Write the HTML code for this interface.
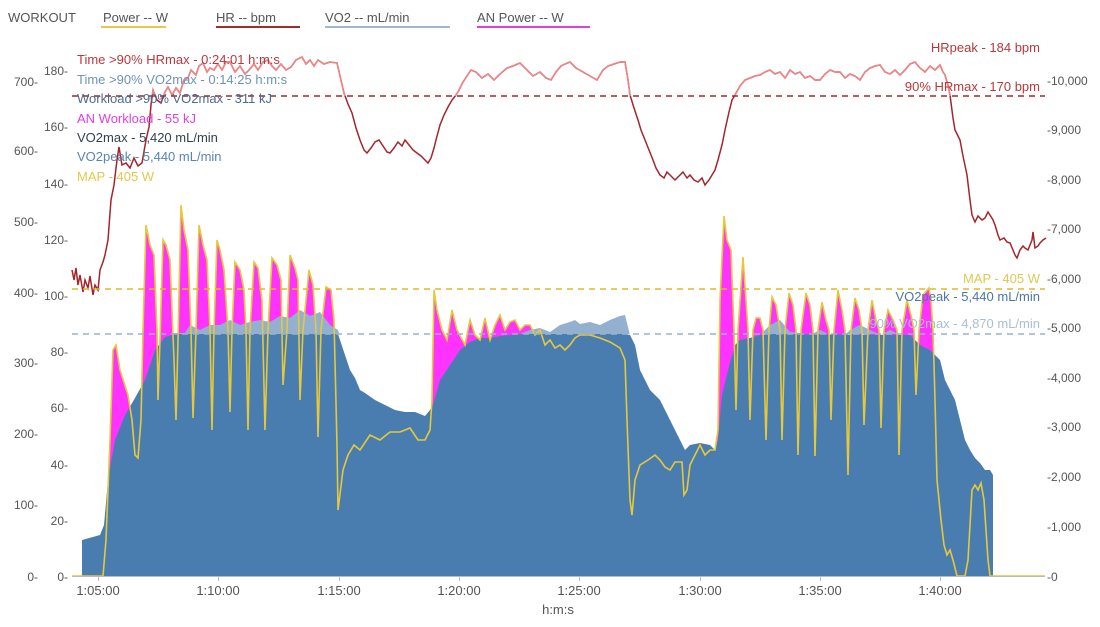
<!DOCTYPE html><html><head><meta charset="utf-8"><style>
html,body{margin:0;padding:0;background:#fff;}
svg{display:block;font-family:"Liberation Sans",sans-serif;}
</style></head><body>
<svg width="1100" height="627" viewBox="0 0 1100 627" xmlns="http://www.w3.org/2000/svg">
<defs>
<clipPath id="above96"><rect x="0" y="0" width="1100" height="96"/></clipPath>
<clipPath id="above334"><rect x="0" y="0" width="1100" height="334"/></clipPath>
</defs>
<g font-size="13" fill="#555">
<text x="8" y="22">WORKOUT</text>
<text x="103" y="22">Power  -- W</text>
<text x="216" y="22">HR  -- bpm</text>
<text x="325" y="22">VO2  -- mL/min</text>
<text x="477" y="22">AN Power  -- W</text>
</g>
<rect x="101" y="26" width="65" height="2" fill="#e3c84a"/>
<rect x="216" y="26" width="84" height="2" fill="#a52a2a"/>
<rect x="325" y="26" width="125" height="2" fill="#9fb8cc"/>
<rect x="477" y="26" width="113" height="2" fill="#e040e0"/>

<polygon fill="#ff33ff" points="72,576 103,576 106,540 110,440 113,350 116,345 120,370 128,395 132,420 135,455 138,458 141,420 143,330 146,225 150,245 154,255 157,330 158,400 160,340 163,240 166,245 170,260 174,360 176,420 178,340 181,205 184,230 188,250 191,330 193,418 196,330 199,225 203,245 207,260 210,330 212,430 214,330 217,240 220,250 224,270 228,330 230,412 232,330 235,262 240,270 244,290 246,330 248,430 250,330 254,262 258,268 262,300 265,430 268,330 272,258 277,265 281,280 283,385 287,330 290,255 295,268 298,280 300,400 303,330 309,270 313,285 316,330 318,437 321,330 326,287 331,290 334,320 337,445 338,510 343,470 348,455 354,445 360,450 370,435 380,440 390,432 400,432 410,428 418,440 425,440 430,430 432,400 434,290 437,310 442,330 447,340 452,310 457,330 465,345 470,320 475,335 480,340 485,318 490,340 495,325 500,315 505,330 510,322 515,320 520,330 525,325 530,325 535,335 540,330 545,345 550,340 555,348 560,345 565,350 570,345 575,338 580,335 590,335 600,338 610,342 620,348 625,360 627,420 630,500 632,515 635,480 640,465 648,460 655,455 660,460 665,467 670,470 675,462 682,462 684,495 687,490 690,465 700,445 705,455 710,450 715,450 718,430 720,300 724,216 727,240 731,250 734,330 736,410 738,330 743,257 746,300 748,330 750,420 753,330 756,318 760,318 763,330 766,440 769,330 772,297 776,305 780,330 782,440 785,330 789,293 793,305 796,330 798,455 801,330 806,293 810,305 813,330 815,456 818,330 822,302 826,320 829,330 831,420 834,330 838,290 842,310 845,330 848,475 851,330 855,298 859,310 862,330 864,425 868,330 872,300 876,320 879,330 881,428 884,330 888,310 893,320 897,330 899,455 902,330 907,300 911,315 914,330 916,395 919,330 923,295 929,288 931,300 933,330 935,400 937,480 941,520 944,545 947,555 950,550 953,560 957,576 960,576 965,576 968,560 972,490 975,485 978,490 981,483 984,500 988,560 990,576 1045,576"/>

<polygon fill="#93b1cf" clip-path="url(#above334)" points="82,540 100,535 104,525 108,480 115,440 125,415 135,398 145,380 155,350 165,337 175,333 185,333 190,325 200,330 210,325 220,325 230,320 240,325 250,322 260,320 270,322 280,316 290,318 300,310 310,316 320,312 330,325 338,330 345,355 350,370 355,378 360,390 365,393 375,400 385,405 395,410 405,412 415,412 425,416 430,410 433,405 440,380 450,365 460,350 470,342 480,338 490,338 500,336 510,335 520,334 530,330 540,328 550,332 560,325 570,322 575,320 580,324 590,322 600,325 610,320 620,316 625,315 630,335 635,345 640,370 645,380 650,390 655,395 660,400 670,420 680,440 685,450 690,445 700,443 710,445 715,450 718,440 722,395 728,370 735,345 740,340 750,338 760,335 770,325 780,320 790,332 800,333 810,335 820,330 830,335 840,340 850,330 860,325 870,330 880,335 890,330 900,335 910,335 920,345 930,350 935,355 940,360 945,380 950,390 955,400 960,420 965,440 970,450 975,458 980,463 985,470 990,470 993,475 993,576 82,576"/>

<polygon fill="#4a7daf" points="82,540 100,535 104,525 108,480 115,440 125,415 135,398 145,380 155,350 165,337 175,334 338,334 345,355 350,370 355,378 360,390 365,393 375,400 385,405 395,410 405,412 415,412 425,416 430,410 433,405 440,380 450,365 460,350 470,342 480,338 490,338 500,336 510,335 520,334 625,334 630,335 635,345 640,370 645,380 650,390 655,395 660,400 670,420 680,440 685,450 690,445 700,443 710,445 715,450 718,440 722,395 728,370 735,345 740,340 750,338 760,335 770,334 910,335 920,345 930,350 935,355 940,360 945,380 950,390 955,400 960,420 965,440 970,450 975,458 980,463 985,470 990,470 993,475 993,576 82,576"/>

<polyline fill="none" stroke="#e6c83a" stroke-width="1.6" points="72,576 103,576 106,540 110,440 113,350 116,345 120,370 128,395 132,420 135,455 138,458 141,420 143,330 146,225 150,245 154,255 157,330 158,400 160,340 163,240 166,245 170,260 174,360 176,420 178,340 181,205 184,230 188,250 191,330 193,418 196,330 199,225 203,245 207,260 210,330 212,430 214,330 217,240 220,250 224,270 228,330 230,412 232,330 235,262 240,270 244,290 246,330 248,430 250,330 254,262 258,268 262,300 265,430 268,330 272,258 277,265 281,280 283,385 287,330 290,255 295,268 298,280 300,400 303,330 309,270 313,285 316,330 318,437 321,330 326,287 331,290 334,320 337,445 338,510 343,470 348,455 354,445 360,450 370,435 380,440 390,432 400,432 410,428 418,440 425,440 430,430 432,400 434,290 437,310 442,330 447,340 452,310 457,330 465,345 470,320 475,335 480,340 485,318 490,340 495,325 500,315 505,330 510,322 515,320 520,330 525,325 530,325 535,335 540,330 545,345 550,340 555,348 560,345 565,350 570,345 575,338 580,335 590,335 600,338 610,342 620,348 625,360 627,420 630,500 632,515 635,480 640,465 648,460 655,455 660,460 665,467 670,470 675,462 682,462 684,495 687,490 690,465 700,445 705,455 710,450 715,450 718,430 720,300 724,216 727,240 731,250 734,330 736,410 738,330 743,257 746,300 748,330 750,420 753,330 756,318 760,318 763,330 766,440 769,330 772,297 776,305 780,330 782,440 785,330 789,293 793,305 796,330 798,455 801,330 806,293 810,305 813,330 815,456 818,330 822,302 826,320 829,330 831,420 834,330 838,290 842,310 845,330 848,475 851,330 855,298 859,310 862,330 864,425 868,330 872,300 876,320 879,330 881,428 884,330 888,310 893,320 897,330 899,455 902,330 907,300 911,315 914,330 916,395 919,330 923,295 929,288 931,300 933,330 935,400 937,480 941,520 944,545 947,555 950,550 953,560 957,576 960,576 965,576 968,560 972,490 975,485 978,490 981,483 984,500 988,560 990,576 1045,576"/>

<polyline fill="none" stroke="#a3262c" stroke-width="1.5" points="72,270 74,280 76,268 78,285 80,275 83,292 85,280 88,288 90,276 93,295 95,285 98,290 100,270 103,262 105,255 108,240 111,200 114,185 117,160 119,147 122,165 126,163 130,168 134,158 138,166 142,163 146,140 149,127 151,105 153,90 157,100 161,103 165,92 168,87 172,95 176,88 180,93 184,80 188,78 191,70 196,75 199,66 203,63 207,72 210,68 214,70 218,64 222,70 226,62 230,62 235,72 240,66 245,74 249,70 254,64 258,70 263,62 268,60 272,66 276,70 281,64 286,70 291,67 296,60 302,57 306,64 310,60 314,66 318,60 324,64 330,62 337,63 344,93 348,104 352,113 356,128 360,140 364,150 367,153 371,148 375,142 379,140 383,146 387,152 390,153 394,148 398,142 402,146 405,140 409,145 413,150 417,153 421,156 425,160 428,163 431,158 434,148 436,140 440,125 444,115 448,107 452,100 456,95 459,90 463,82 467,76 471,70 476,72 482,78 488,74 494,80 500,74 507,68 513,66 520,63 527,70 533,76 540,72 546,78 551,80 556,72 561,66 565,64 570,62 576,68 583,72 590,76 597,80 603,70 608,66 614,64 620,62 625,62 628,80 630,95 634,108 638,120 641,130 645,140 649,150 653,160 656,168 660,175 664,178 667,172 671,176 675,180 679,176 683,172 687,178 690,175 694,180 698,182 702,178 705,185 709,180 712,175 715,170 718,160 722,145 725,130 729,112 732,100 735,95 740,86 745,80 750,78 755,76 760,75 765,72 770,70 775,74 780,72 785,78 790,70 795,74 800,72 805,78 810,76 815,80 820,80 825,74 830,70 835,72 840,72 845,78 850,74 855,76 860,80 865,72 870,68 875,66 880,65 885,72 890,74 895,70 900,75 905,70 910,64 915,62 920,68 925,72 930,66 935,70 940,65 943,72 945,75 948,85 950,95 953,118 955,130 958,136 960,140 963,156 967,175 970,200 972,215 975,222 978,216 982,220 985,218 988,212 990,215 993,220 995,225 998,235 1000,240 1004,238 1007,242 1010,243 1013,250 1015,255 1017,258 1020,250 1023,246 1025,248 1028,250 1030,245 1032,240 1033,232 1035,248 1038,246 1040,243 1043,240 1046,238"/>
<polyline fill="none" stroke="#ef8585" stroke-width="1.5" clip-path="url(#above96)" points="72,270 74,280 76,268 78,285 80,275 83,292 85,280 88,288 90,276 93,295 95,285 98,290 100,270 103,262 105,255 108,240 111,200 114,185 117,160 119,147 122,165 126,163 130,168 134,158 138,166 142,163 146,140 149,127 151,105 153,90 157,100 161,103 165,92 168,87 172,95 176,88 180,93 184,80 188,78 191,70 196,75 199,66 203,63 207,72 210,68 214,70 218,64 222,70 226,62 230,62 235,72 240,66 245,74 249,70 254,64 258,70 263,62 268,60 272,66 276,70 281,64 286,70 291,67 296,60 302,57 306,64 310,60 314,66 318,60 324,64 330,62 337,63 344,93 348,104 352,113 356,128 360,140 364,150 367,153 371,148 375,142 379,140 383,146 387,152 390,153 394,148 398,142 402,146 405,140 409,145 413,150 417,153 421,156 425,160 428,163 431,158 434,148 436,140 440,125 444,115 448,107 452,100 456,95 459,90 463,82 467,76 471,70 476,72 482,78 488,74 494,80 500,74 507,68 513,66 520,63 527,70 533,76 540,72 546,78 551,80 556,72 561,66 565,64 570,62 576,68 583,72 590,76 597,80 603,70 608,66 614,64 620,62 625,62 628,80 630,95 634,108 638,120 641,130 645,140 649,150 653,160 656,168 660,175 664,178 667,172 671,176 675,180 679,176 683,172 687,178 690,175 694,180 698,182 702,178 705,185 709,180 712,175 715,170 718,160 722,145 725,130 729,112 732,100 735,95 740,86 745,80 750,78 755,76 760,75 765,72 770,70 775,74 780,72 785,78 790,70 795,74 800,72 805,78 810,76 815,80 820,80 825,74 830,70 835,72 840,72 845,78 850,74 855,76 860,80 865,72 870,68 875,66 880,65 885,72 890,74 895,70 900,75 905,70 910,64 915,62 920,68 925,72 930,66 935,70 940,65 943,72 945,75 948,85 950,95 953,118 955,130"/>

<line x1="72" y1="96" x2="1045" y2="96" stroke="#a3262c" stroke-width="1.6" stroke-dasharray="6,5"/>
<line x1="72" y1="289" x2="1045" y2="289" stroke="#e0b828" stroke-width="1.6" stroke-dasharray="6,5"/>
<line x1="72" y1="334" x2="1045" y2="334" stroke="#9ab3c8" stroke-width="1.6" stroke-dasharray="6,5"/>

<g font-size="13">
<text x="77" y="64" fill="#b8383c">Time &gt;90% HRmax - 0:24:01 h:m:s</text>
<text x="77" y="84" fill="#6d93b8">Time &gt;90% VO2max - 0:14:25 h:m:s</text>
<text x="77" y="103" fill="#4d6b8c">Workload &gt;90% VO2max - 311 kJ</text>
<text x="77" y="123" fill="#e040e0">AN Workload - 55 kJ</text>
<text x="77" y="142" fill="#33414f">VO2max - 5,420 mL/min</text>
<text x="77" y="161" fill="#5a84b0">VO2peak - 5,440 mL/min</text>
<text x="77" y="181" fill="#e0c850">MAP - 405 W</text>
</g>
<g font-size="13" text-anchor="end">
<text x="1040" y="52" fill="#b8383c">HRpeak - 184 bpm</text>
<text x="1040" y="91" fill="#b8383c">90% HRmax - 170 bpm</text>
<text x="1040" y="283" fill="#e0c850">MAP - 405 W</text>
<text x="1040" y="301" fill="#4d76a6">VO2peak - 5,440 mL/min</text>
<text x="1040" y="328" fill="#a9bfd2">90% VO2max - 4,870 mL/min</text>
</g>

<line x1="72" y1="576.5" x2="1045" y2="576.5" stroke="#bbb" stroke-width="1"/>
<g font-size="12" fill="#555" text-anchor="end">
<text x="38" y="86">700-</text><text x="38" y="155">600-</text><text x="38" y="226">500-</text><text x="38" y="297">400-</text>
<text x="38" y="367">300-</text><text x="38" y="438">200-</text><text x="38" y="509">100-</text><text x="38" y="581">0-</text>
<text x="68" y="75">180-</text><text x="68" y="131">160-</text><text x="68" y="188">140-</text><text x="68" y="244">120-</text>
<text x="68" y="300">100-</text><text x="68" y="356">80-</text><text x="68" y="412">60-</text><text x="68" y="469">40-</text>
<text x="68" y="525">20-</text><text x="68" y="581">0-</text>
</g>
<g font-size="12" fill="#555">
<text x="1047" y="85">-10,000</text><text x="1047" y="134">-9,000</text><text x="1047" y="184">-8,000</text><text x="1047" y="233">-7,000</text>
<text x="1047" y="283">-6,000</text><text x="1047" y="332">-5,000</text><text x="1047" y="382">-4,000</text><text x="1047" y="431">-3,000</text>
<text x="1047" y="481">-2,000</text><text x="1047" y="531">-1,000</text><text x="1047" y="581">-0</text>
</g>
<g stroke="#bbb" stroke-width="1">
<line x1="98.5" y1="576" x2="98.5" y2="581"/><line x1="218.5" y1="576" x2="218.5" y2="581"/><line x1="339.5" y1="576" x2="339.5" y2="581"/>
<line x1="459.5" y1="576" x2="459.5" y2="581"/><line x1="579.5" y1="576" x2="579.5" y2="581"/><line x1="700.5" y1="576" x2="700.5" y2="581"/>
<line x1="820.5" y1="576" x2="820.5" y2="581"/><line x1="940.5" y1="576" x2="940.5" y2="581"/>
</g>
<g font-size="13" fill="#555" text-anchor="middle">
<text x="98" y="595">1:05:00</text><text x="218" y="595">1:10:00</text><text x="339" y="595">1:15:00</text>
<text x="459" y="595">1:20:00</text><text x="579" y="595">1:25:00</text><text x="700" y="595">1:30:00</text>
<text x="820" y="595">1:35:00</text><text x="940" y="595">1:40:00</text>
<text x="558" y="614">h:m:s</text>
</g>
</svg>
</body></html>
